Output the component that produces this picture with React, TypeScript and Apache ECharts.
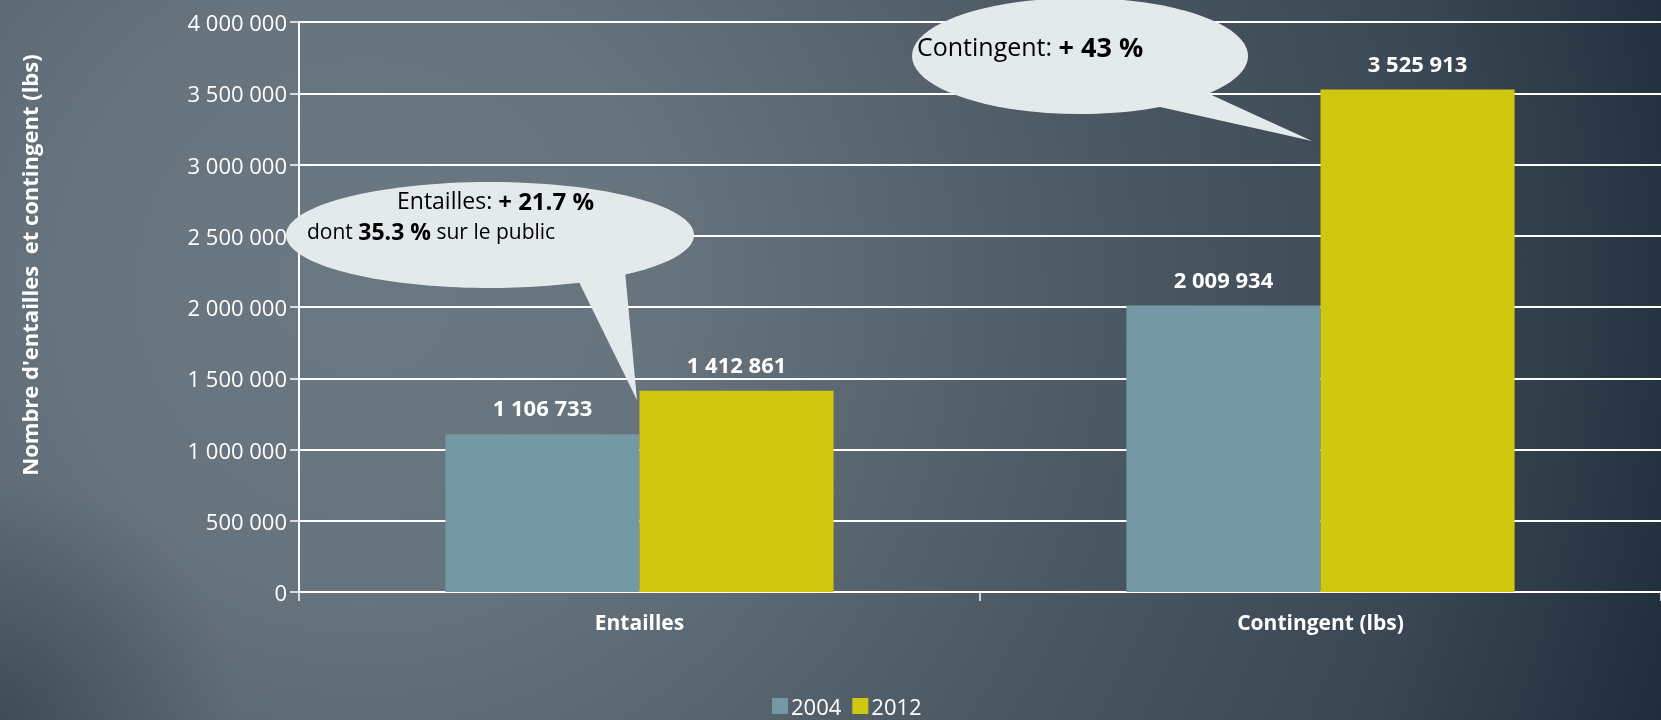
import React, { useEffect, useRef } from "react";
import * as echarts from "echarts";

const categories = ["Entailles", "Contingent (lbs)"];
const values2004 = [1106733, 2009934];
const values2012 = [1412861, 3525913];
const seriesNames = ["2004", "2012"];
const yAxisTitle = "Nombre d'entailles  et contingent (lbs)";
const callout1Line1 = ["Entailles: ", "+ 21.7 %"];
const callout1Line2 = ["dont ", "35.3 %", " sur le public"];
const callout2Line = ["Contingent: ", "+ 43 %"];

const FONT = "'Open Sans', 'Noto Sans', sans-serif";
const fmt = (v: number) => String(Math.round(v)).replace(/\B(?=(\d{3})+(?!\d))/g, " ");

export default function App() {
  const ref = useRef<HTMLDivElement>(null);
  useEffect(() => {
    if (!ref.current) return;
    const chart = echarts.init(ref.current, null, { renderer: "svg" });
    const bubbleFill = "#e3eaec";
    const dataLabel = {
      show: true,
      position: "top",
      distance: 16,
      color: "#ffffff",
      fontWeight: "bold",
      fontSize: 22,
      fontFamily: FONT,
      formatter: (p: any) => fmt(p.value),
    };
    const option: any = {
      animation: false,
      backgroundColor: "transparent",
      textStyle: { fontFamily: FONT },
      grid: { left: 299, right: -37, top: 22, bottom: 128, containLabel: false },
      legend: {
        data: seriesNames,
        left: 772,
        top: 695,
        padding: 0,
        icon: "rect",
        itemWidth: 16,
        itemHeight: 16,
        itemGap: 11,
        textStyle: { color: "#ffffff", fontSize: 22, lineHeight: 22, fontFamily: FONT, padding: [0, 0, 0, -2] },
      },
      xAxis: {
        type: "category",
        data: categories,
        axisLine: { show: true, lineStyle: { color: "#ffffff", width: 2 } },
        axisTick: { show: true, alignWithLabel: false, length: 9, lineStyle: { color: "#ffffff", width: 1.5 } },
        axisLabel: { color: "#ffffff", fontWeight: "bold", fontSize: 21, margin: 19, fontFamily: FONT },
        splitLine: { show: false },
      },
      yAxis: {
        type: "value",
        min: 0,
        max: 4000000,
        interval: 500000,
        axisLine: { show: true, lineStyle: { color: "#ffffff", width: 2 } },
        axisTick: { show: true, length: 9, lineStyle: { color: "#ffffff", width: 1.5 } },
        axisLabel: { color: "#ffffff", fontSize: 22, margin: 12, formatter: (v: number) => fmt(v), fontFamily: FONT },
        splitLine: { show: true, lineStyle: { color: "#ffffff", width: 2 } },
      },
      series: [
        {
          name: seriesNames[0],
          type: "bar",
          data: values2004,
          barGap: "0%",
          barCategoryGap: "43%",
          itemStyle: { color: "#7499a5" },
          label: dataLabel,
          z: 2,
        },
        {
          name: seriesNames[1],
          type: "bar",
          data: values2012,
          barGap: "0%",
          barCategoryGap: "43%",
          itemStyle: { color: "#d0c70f" },
          label: dataLabel,
          z: 2,
        },
      ],
      graphic: [
        {
          type: "text",
          x: 29,
          y: 265,
          rotation: Math.PI / 2,
          style: {
            text: yAxisTitle,
            fill: "#ffffff",
            font: `bold 22px ${FONT}`,
            align: "center",
            verticalAlign: "middle",
          },
          z: 10,
        },
        // Callout 1
        {
          type: "group",
          z: 20,
          children: [
            {
              type: "polygon",
              shape: { points: [[575, 274], [625, 271], [637, 400]] },
              style: { fill: bubbleFill },
              z: 20,
            },
            {
              type: "ellipse",
              shape: { cx: 490, cy: 235, rx: 204, ry: 53 },
              style: { fill: bubbleFill },
              z: 20,
            },
            {
              type: "text",
              x: 397,
              y: 200,
              style: {
                text: `{n|${callout1Line1[0]}}{b|${callout1Line1[1]}}`,
                verticalAlign: "middle",
                rich: {
                  n: { fill: "#000000", font: `23px ${FONT}` },
                  b: { fill: "#000000", font: `bold 24px ${FONT}` },
                },
              },
              z: 21,
            },
            {
              type: "text",
              x: 307,
              y: 231,
              style: {
                text: `{n|${callout1Line2[0]}}{b|${callout1Line2[1]}}{n|${callout1Line2[2]}}`,
                verticalAlign: "middle",
                rich: {
                  n: { fill: "#000000", font: `21px ${FONT}` },
                  b: { fill: "#000000", font: `bold 23px ${FONT}` },
                },
              },
              z: 21,
            },
          ],
        },
        // Callout 2
        {
          type: "group",
          z: 20,
          children: [
            {
              type: "polygon",
              shape: { points: [[1151, 105], [1205, 92], [1312, 141]] },
              style: { fill: bubbleFill },
              z: 20,
            },
            {
              type: "ellipse",
              shape: { cx: 1080, cy: 56, rx: 168, ry: 58 },
              style: { fill: bubbleFill },
              z: 20,
            },
            {
              type: "text",
              x: 917,
              y: 46,
              style: {
                text: `{n|${callout2Line[0]}}{b|${callout2Line[1]}}`,
                verticalAlign: "middle",
                rich: {
                  n: { fill: "#000000", font: `25px ${FONT}` },
                  b: { fill: "#000000", font: `bold 27px ${FONT}` },
                },
              },
              z: 21,
            },
          ],
        },
      ],
    };
    chart.setOption(option);
    return () => chart.dispose();
  }, []);

  return (
    <div
      style={{
        position: "fixed",
        left: 0,
        top: 0,
        width: 1661,
        height: 720,
        background:
          "radial-gradient(circle 240px at 0px 720px, rgba(40,54,68,0.5) 0%, rgba(40,54,68,0) 100%), radial-gradient(circle 1366px at 365px 288px, #6c7881 0%, #67737d 22%, #58646e 40%, #4b5761 55%, #3a4652 80%, #1f2d3b 100%)",
      }}
    >
      <div ref={ref} style={{ width: 1661, height: 720 }} />
    </div>
  );
}
